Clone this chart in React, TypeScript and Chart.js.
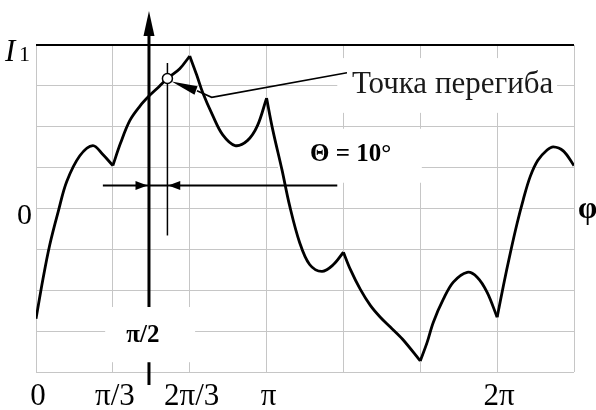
import React, { useEffect, useRef } from "react";
import { Chart, registerables } from "chart.js";

Chart.register(...registerables);

// phase φ in units of π/3
const phiValues = [
  0, 0.09, 0.18, 0.29, 0.4, 0.57, 0.74, 0.87, 1.0,
  1.1, 1.22, 1.35, 1.47, 1.6, 1.71, 1.87, 2.0,
  2.09, 2.17, 2.3, 2.43, 2.59, 2.75, 2.88, 3.0,
  3.08, 3.2, 3.3, 3.43, 3.56, 3.72, 3.86, 4.0,
  4.09, 4.22, 4.35, 4.48, 4.61, 4.77, 5.0,
  5.09, 5.17, 5.3, 5.43, 5.61, 5.74, 5.87, 6.0,
  6.08, 6.17, 6.26, 6.34, 6.43, 6.53, 6.65, 6.73, 6.86, 7.0,
];
// intensity, I1 = 4
const intensityValues = [
  -2.7, -1.73, -0.88, -0.07, 0.66, 1.29, 1.54, 1.32, 1.05,
  1.6, 2.15, 2.5, 2.75, 2.98, 3.18, 3.42, 3.73,
  3.27, 2.83, 2.27, 1.8, 1.54, 1.66, 2.02, 2.7,
  1.93, 0.95, 0.07, -0.83, -1.37, -1.54, -1.39, -1.07,
  -1.49, -1.98, -2.37, -2.66, -2.9, -3.2, -3.73,
  -3.27, -2.78, -2.22, -1.8, -1.56, -1.68, -2.05, -2.66,
  -1.9, -1.1, -0.36, 0.22, 0.78, 1.18, 1.43, 1.51, 1.41, 1.05,
];
const cuspPhi = [1, 2, 3, 4, 5, 6];

const xTickValues = [0, 1, 2, 3, 6];
const xTickLabels = ["0", "π/3", "2π/3", "π", "2π"];
const yMin = -4;
const yMax = 4;
const xMin = 0;
const xMax = 7;

// annotation values (data units)
const axisPhi = 1.47; // π/2 axis
const inflectionPhi = 1.71;
const inflectionI = 3.18;
const thetaLabel = "Θ = 10°";
const calloutLabel = "Точка перегиба";
const halfPiLabel = "π/2";
const phiAxisLabel = "φ";

const SERIF = '"Liberation Serif", "Times New Roman", serif';

function buildSegments() {
  const segs: { x: number; y: number }[][] = [];
  let cur: { x: number; y: number }[] = [];
  for (let i = 0; i < phiValues.length; i++) {
    const p = { x: phiValues[i], y: intensityValues[i] };
    cur.push(p);
    if (cuspPhi.includes(phiValues[i]) && cur.length > 1) {
      segs.push(cur);
      cur = [p];
    }
  }
  if (cur.length > 1) segs.push(cur);
  return segs;
}

function arrowHead(ctx: CanvasRenderingContext2D, tx: number, ty: number, fx: number, fy: number, len: number, half: number) {
  const a = Math.atan2(ty - fy, tx - fx);
  const bx = tx - Math.cos(a) * len;
  const by = ty - Math.sin(a) * len;
  ctx.beginPath();
  ctx.moveTo(tx, ty);
  ctx.lineTo(bx + Math.sin(a) * half, by - Math.cos(a) * half);
  ctx.lineTo(bx - Math.sin(a) * half, by + Math.cos(a) * half);
  ctx.closePath();
  ctx.fill();
}

const annotPlugin = {
  id: "annot",
  beforeDatasetsDraw(chart: any) {
    const { ctx, scales } = chart;
    const x = scales.x, y = scales.y;
    const boxes = [
      [3.92, 6.78, 3.68, 2.34], // callout text
      [3.15, 5.02, 1.95, 0.63], // theta
      [0.9, 2.07, -2.41, -3.76], // π/2
    ];
    ctx.save();
    ctx.fillStyle = "#ffffff";
    for (const b of boxes) {
      const X0 = x.getPixelForValue(b[0]);
      const X1 = x.getPixelForValue(b[1]);
      const Y0 = y.getPixelForValue(b[2]);
      const Y1 = y.getPixelForValue(b[3]);
      ctx.fillRect(Math.min(X0, X1), Math.min(Y0, Y1), Math.abs(X1 - X0), Math.abs(Y1 - Y0));
    }
    ctx.restore();
  },
  afterDatasetsDraw(chart: any) {
    const { ctx, scales, chartArea } = chart;
    const x = scales.x, y = scales.y;
    const X = (v: number) => x.getPixelForValue(v);
    const Y = (v: number) => y.getPixelForValue(v);
    ctx.save();
    ctx.strokeStyle = "#000";
    ctx.fillStyle = "#000";

    // top I1 line
    ctx.lineWidth = 2;
    ctx.beginPath();
    ctx.moveTo(chartArea.left, Y(yMax));
    ctx.lineTo(chartArea.right, Y(yMax));
    ctx.stroke();

    // π/2 vertical axis with arrow
    const ax = X(axisPhi);
    ctx.lineWidth = 3;
    ctx.beginPath();
    ctx.moveTo(ax, Y(4.3));
    ctx.lineTo(ax, Y(-2.41));
    ctx.moveTo(ax, Y(-3.76));
    ctx.lineTo(ax, Y(-4.32));
    ctx.stroke();
    arrowHead(ctx, ax, Y(4.83), ax, Y(4.0), 25, 5.5);

    // inflection vertical line
    const ix = X(inflectionPhi);
    ctx.lineWidth = 1.5;
    ctx.beginPath();
    ctx.moveTo(ix, Y(3.56));
    ctx.lineTo(ix, Y(-0.66));
    ctx.stroke();

    // horizontal double arrow (Θ width)
    const hy = Y(0.56);
    ctx.lineWidth = 2;
    ctx.beginPath();
    ctx.moveTo(X(0.87), hy);
    ctx.lineTo(X(3.92), hy);
    ctx.stroke();
    arrowHead(ctx, ax - 1.5, hy, ax - 20, hy, 12, 4.5);
    arrowHead(ctx, ix + 0.8, hy, ix + 20, hy, 12, 4.5);

    // inflection circle
    ctx.lineWidth = 1.5;
    ctx.fillStyle = "#fff";
    ctx.beginPath();
    ctx.arc(X(inflectionPhi), Y(inflectionI), 5, 0, Math.PI * 2);
    ctx.fill();
    ctx.stroke();
    ctx.fillStyle = "#000";

    // callout leader
    const tipX = X(1.765), tipY = Y(3.11);
    const baseX = X(2.095), baseY = Y(2.88);
    ctx.lineWidth = 1.6;
    ctx.beginPath();
    ctx.moveTo(baseX, baseY);
    ctx.lineTo(X(2.286), Y(2.72));
    ctx.lineTo(X(4.046), Y(3.32));
    ctx.stroke();
    arrowHead(ctx, tipX, tipY, baseX, baseY, 26, 4.5);

    // texts
    ctx.textBaseline = "alphabetic";
    ctx.textAlign = "left";
    ctx.font = `31px ${SERIF}`;
    ctx.fillStyle = "#1a1a1a";
    ctx.fillText(calloutLabel, X(4.11), Y(2.83));

    ctx.fillStyle = "#000";
    ctx.font = `bold 25px ${SERIF}`;
    ctx.fillText(thetaLabel, X(3.565), Y(1.17));

    ctx.textAlign = "center";
    ctx.textBaseline = "middle";
    ctx.font = `bold 25px ${SERIF}`;
    ctx.fillText(halfPiLabel, X(1.39), Y(-3.12));

    ctx.textAlign = "left";
    ctx.font = `bold 31px ${SERIF}`;
    ctx.fillText(phiAxisLabel, chartArea.right + 4, Y(0) + 1);

    // y labels
    ctx.textAlign = "right";
    ctx.textBaseline = "middle";
    ctx.font = `30px ${SERIF}`;
    ctx.fillText("0", chartArea.left - 4, Y(0) + 8);

    ctx.textBaseline = "alphabetic";
    ctx.textAlign = "left";
    ctx.font = `italic 31px ${SERIF}`;
    ctx.fillText("I", chartArea.left - 31, Y(yMax) + 16);
    ctx.font = `22px ${SERIF}`;
    ctx.fillText("1", chartArea.left - 17, Y(yMax) + 16);

    // x labels
    ctx.textAlign = "center";
    ctx.textBaseline = "middle";
    ctx.font = `31px ${SERIF}`;
    xTickValues.forEach((v, i) => {
      ctx.fillText(xTickLabels[i], X(v) + 2, chartArea.bottom + 25);
    });

    ctx.restore();
  },
};

export default function App() {
  const ref = useRef<HTMLCanvasElement | null>(null);
  useEffect(() => {
    if (!ref.current) return;
    const segs = buildSegments();
    const chart = new Chart(ref.current, {
      type: "line",
      data: {
        datasets: segs.map((s) => ({
          data: s,
          borderColor: "#000",
          borderWidth: 2.8,
          pointRadius: 0,
          fill: false,
          tension: 0.35,
        })),
      },
      options: {
        responsive: false,
        animation: false,
        events: [],
        layout: { padding: { left: 36, right: 22, top: 45, bottom: 38 } },
        plugins: { legend: { display: false }, tooltip: { enabled: false } },
        scales: {
          x: {
            type: "linear",
            min: xMin,
            max: xMax,
            ticks: { display: false, stepSize: 1 },
            grid: { color: "#c6c6c6", lineWidth: 1, drawTicks: false },
            border: { display: false },
          },
          y: {
            type: "linear",
            min: yMin,
            max: yMax,
            ticks: { display: false, stepSize: 1 },
            grid: { color: "#c6c6c6", lineWidth: 1, drawTicks: false },
            border: { display: false },
          },
        },
      },
      plugins: [annotPlugin],
    });
    return () => chart.destroy();
  }, []);
  return (
    <div style={{ position: "fixed", left: 0, top: 0, width: 596, height: 410, background: "#fff" }}>
      <canvas ref={ref} width={596} height={410} style={{ display: "block" }} />
    </div>
  );
}
